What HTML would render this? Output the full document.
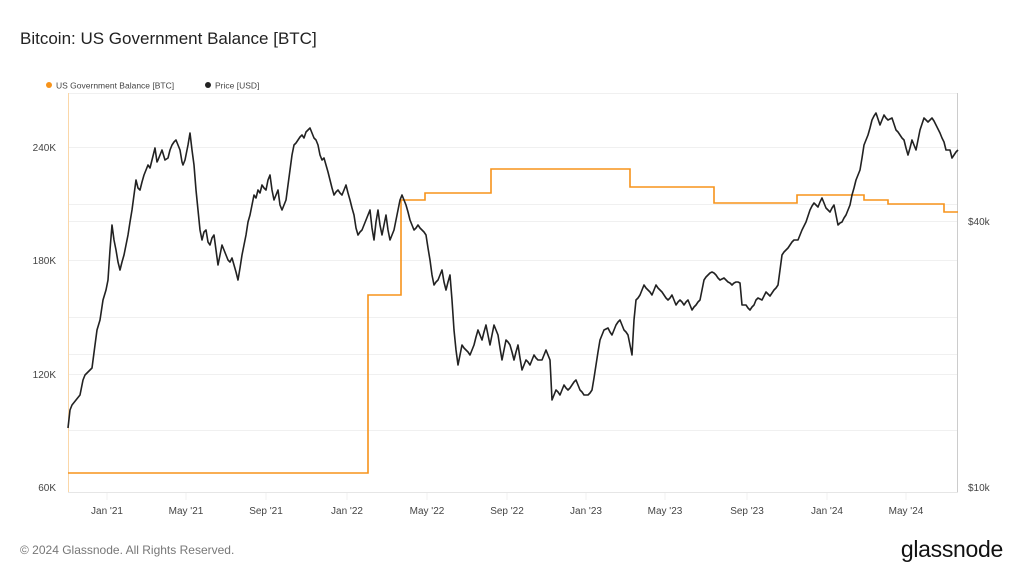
<!DOCTYPE html>
<html><head><meta charset="utf-8"><style>
body{margin:0;background:#fff;}
svg{display:block;font-family:"Liberation Sans",sans-serif;}
</style></head><body>
<svg width="1024" height="576" viewBox="0 0 1024 576" xmlns="http://www.w3.org/2000/svg">
<rect width="1024" height="576" fill="#fff"/>
<text x="20" y="44" font-size="17" fill="#222">Bitcoin: US Government Balance [BTC]</text>
<circle cx="49" cy="85" r="3" fill="#f7931a"/>
<text x="56" y="88.5" font-size="8.5" fill="#444">US Government Balance [BTC]</text>
<circle cx="208" cy="85" r="3" fill="#222"/>
<text x="215" y="88.5" font-size="8.5" fill="#444">Price [USD]</text>
<g stroke="#f0f0f0" stroke-width="1">
<line x1="68" y1="93.5" x2="958" y2="93.5"/>
<line x1="68" y1="147.5" x2="958" y2="147.5"/>
<line x1="68" y1="204.5" x2="958" y2="204.5"/>
<line x1="68" y1="221.5" x2="958" y2="221.5"/>
<line x1="68" y1="260.5" x2="958" y2="260.5"/>
<line x1="68" y1="317.5" x2="958" y2="317.5"/>
<line x1="68" y1="354.5" x2="958" y2="354.5"/>
<line x1="68" y1="374.5" x2="958" y2="374.5"/>
<line x1="68" y1="430.5" x2="958" y2="430.5"/>
</g>
<g stroke="#f0f0f0"><line x1="107" y1="492" x2="107" y2="500"/><line x1="186" y1="492" x2="186" y2="500"/><line x1="266" y1="492" x2="266" y2="500"/><line x1="347" y1="492" x2="347" y2="500"/><line x1="427" y1="492" x2="427" y2="500"/><line x1="507" y1="492" x2="507" y2="500"/><line x1="586" y1="492" x2="586" y2="500"/><line x1="665" y1="492" x2="665" y2="500"/><line x1="747" y1="492" x2="747" y2="500"/><line x1="827" y1="492" x2="827" y2="500"/><line x1="906" y1="492" x2="906" y2="500"/></g>
<line x1="68" y1="492.5" x2="958" y2="492.5" stroke="#e6e6e6"/>
<line x1="68.5" y1="93" x2="68.5" y2="492" stroke="#fbd7a8"/>
<line x1="957.5" y1="93" x2="957.5" y2="492" stroke="#ccc"/>
<g font-size="10" fill="#444" text-anchor="end">
<text x="56" y="151">240K</text><text x="56" y="264">180K</text><text x="56" y="378">120K</text><text x="56" y="491">60K</text>
</g>
<g font-size="10" fill="#444"><text x="968" y="225">$40k</text><text x="968" y="491">$10k</text></g>
<g font-size="10" fill="#444" text-anchor="middle">
<text x="107" y="514">Jan '21</text><text x="186" y="514">May '21</text><text x="266" y="514">Sep '21</text><text x="347" y="514">Jan '22</text><text x="427" y="514">May '22</text><text x="507" y="514">Sep '22</text><text x="586" y="514">Jan '23</text><text x="665" y="514">May '23</text><text x="747" y="514">Sep '23</text><text x="827" y="514">Jan '24</text><text x="906" y="514">May '24</text>
</g>
<polyline fill="none" stroke="#f7931a" stroke-width="1.6" points="68,473 368,473 368,295 401,295 401,200 425,200 425,193 491,193 491,169 630,169 630,187 714,187 714,203 797,203 797,195 864,195 864,200 888,200 888,204 944,204 944,212 958,212"/>
<polyline fill="none" stroke="#222" stroke-width="1.6" stroke-linejoin="round" points="68,428 70,410 72,405 76,400 80,395 83,380 85,375 88,372 92,368 95,345 97,330 100,320 103,300 106,290 108,280 110,250 112,225 114,240 116,250 118,262 120,270 122,262 124,255 126,245 128,235 130,222 132,210 134,195 136,180 138,188 140,190 142,182 144,175 146,170 148,165 150,168 152,160 154,152 155,148 157,162 158,160 160,155 162,150 165,160 168,158 170,150 172,145 174,142 176,140 178,145 180,150 182,162 183,165 185,160 186,155 188,145 190,133 192,150 194,165 196,190 198,210 200,230 202,240 204,232 206,230 208,242 210,245 212,238 214,235 216,250 218,265 220,255 222,245 224,250 226,255 228,260 230,262 232,258 234,265 236,272 238,280 240,268 242,255 244,245 246,235 248,222 250,215 252,205 254,195 256,198 258,190 260,193 262,185 264,188 266,190 268,180 270,175 272,190 274,200 276,195 278,190 280,205 282,210 284,205 286,200 288,185 290,170 292,155 294,145 296,143 298,140 300,137 302,135 304,138 306,132 308,130 310,128 312,133 314,138 316,140 318,145 320,155 322,160 324,158 326,165 328,172 330,180 332,188 334,195 336,192 338,190 340,193 342,195 344,190 346,185 348,193 350,200 352,208 354,215 356,228 358,235 360,232 362,230 364,225 366,220 368,215 370,210 372,228 374,240 376,222 378,210 380,225 382,235 384,225 386,215 388,230 390,240 392,235 394,230 396,220 398,210 400,200 402,195 404,200 406,205 408,212 410,220 412,225 414,230 416,228 418,225 420,228 422,230 424,232 426,235 428,248 430,260 432,275 434,285 436,282 438,280 440,275 442,270 444,282 446,290 448,282 450,275 452,300 454,330 456,350 458,365 460,355 462,345 464,348 466,350 468,352 470,355 472,350 474,345 476,337 478,330 480,335 482,340 484,332 486,325 488,335 490,345 492,335 494,325 496,330 498,335 500,348 502,360 504,350 506,340 508,342 510,345 512,352 514,360 516,352 518,345 520,358 522,370 524,365 526,360 528,362 530,365 532,360 534,355 536,358 538,360 540,360 542,360 544,355 546,350 548,355 550,360 552,400 554,395 556,390 558,392 560,395 562,390 564,385 566,388 568,390 570,388 572,385 574,382 576,380 578,385 580,390 582,392 584,395 586,395 588,395 590,393 592,390 594,378 596,365 598,352 600,340 602,335 604,330 606,329 608,328 610,332 612,335 614,330 616,325 618,322 620,320 622,325 624,330 626,332 628,335 630,345 632,355 634,320 636,300 638,298 640,295 642,290 644,285 646,288 648,290 650,292 652,295 654,290 656,285 658,288 660,290 662,292 664,295 666,298 668,300 670,298 672,295 674,300 676,305 678,302 680,300 682,302 684,305 686,302 688,300 690,305 692,310 694,307 696,305 698,302 700,300 702,290 704,280 706,277 708,275 710,273 712,272 714,273 716,275 718,278 720,280 722,279 724,278 726,280 728,282 730,283 732,285 734,283 736,282 738,282 740,283 742,305 744,305 746,305 748,308 750,310 752,307 754,305 756,300 758,298 760,299 762,300 764,296 766,292 768,294 770,296 772,293 774,290 776,288 778,285 780,270 782,255 784,252 786,250 788,248 790,245 792,242 794,240 796,240 798,240 800,235 802,230 804,226 806,222 808,216 810,210 812,206 814,203 816,205 818,207 820,202 822,198 824,203 826,208 828,210 830,212 832,208 834,205 836,215 838,225 840,223 842,222 844,218 846,215 848,210 850,205 852,195 854,188 856,180 858,175 860,170 862,158 864,145 866,140 868,135 870,128 872,120 874,116 876,113 878,119 880,125 882,120 884,115 886,118 888,120 890,119 892,118 894,124 896,130 898,132 900,135 902,138 904,140 906,148 908,155 910,148 912,140 914,145 916,150 918,140 920,130 922,124 924,118 926,120 928,122 930,120 932,118 934,121 936,125 938,129 940,133 942,138 944,142 946,150 948,150 950,150 952,158 954,155 956,152 958,150"/>
<text x="20" y="554" font-size="12" fill="#777">© 2024 Glassnode. All Rights Reserved.</text>
<text x="1003" y="557" font-size="23" fill="#111" text-anchor="end" letter-spacing="-0.3">glassnode</text>
</svg>
</body></html>
